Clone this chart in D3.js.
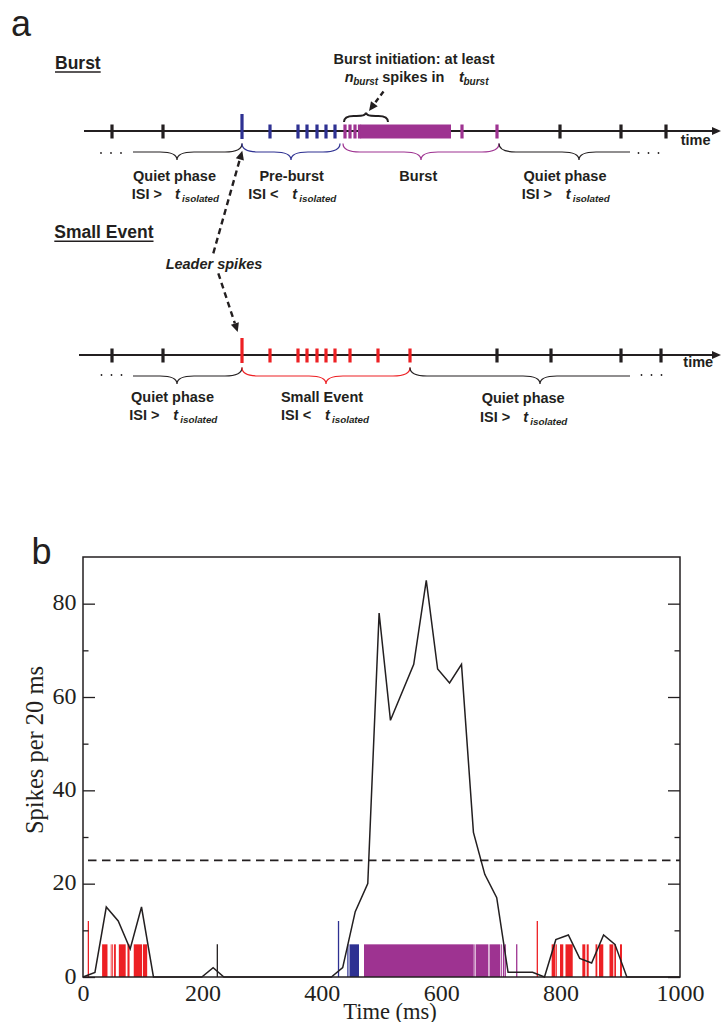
<!DOCTYPE html>
<html><head><meta charset="utf-8">
<script src="https://cdn.jsdelivr.net/npm/d3@7"></script>
<style>body{margin:0;background:#fff}svg{display:block}</style>
</head><body>
<svg id="c" width="722" height="1022"></svg>
<script>
// ================= Panel b data =================
const rateTimes  = [0,20,39,59,79,98,118,199,218,236,416,435,456,477,496,515,554,575,594,614,634,654,673,693,712,753,773,792,813,832,852,872,891,911,1000];
const rateValues = [0,1,15,12,6,15,0,0,2,0,0,2,14,20,78,55,67,85,66,63,67,31,22,17,1,1,0,8,9,4,3,9,7,0,0];
const threshold = 25;
const yTicksMajor = [0,20,40,60,80];
const yTicksMinor = [10,30,50,70];
const xTicks = [0,200,400,600,800,1000];
// raster: dense spike runs [start,end] in ms, isolated spikes in ms
const redRunsEarly = [[32,41],[46.5,47.5],[49,50],[52,55],[60,71.5],[74.5,78],[85,99],[100.5,107.5]];
const blueRuns = [[442.7,444.7],[446.4,462.3]];
const purpleRuns = [[470.7,654.5],[655.6,657],[658,679],[681,699],[700.5,702],[703.5,706],[707,708.5]];
const redRunsLate = [[785,791.5],[792.3,793.6],[799,804.5],[808.2,820.3],[836.4,841.4],[843.7,847.1],[858.5,861.5],[864.3,871.5],[881.9,888.3],[890,892.8],[899.5,902.8]];
const leaderSpikes = [{t:9,c:"red"},{t:428,c:"blue"},{t:761,c:"red"}];
const singleSpikes = [{t:225,c:"black"},{t:726.5,c:"purple"}];
const rasterHeight = 7, leaderHeight = 12;

// ================= Panel a data (schematic time units) =================
const burstQuiet = [31,82,479,540,585];
const burstLeader = [161];
const burstPre = [189,217,226,236,245,254];
const burstInit = [264,269,274,278.5];
const burstDense = [[281,370]];
const burstTail = [381,416];
const seQuiet = [31,82,416,470,540,580];
const seLeader = [161];
const seSpikes = [189,217,226,236,245,254,269,297,329];

const COL = {black:"#231f20", blue:"#2e3192", purple:"#9e3391", red:"#ed2024"};

const svg = d3.select("#c");

// ---------------- Panel a ----------------
const xs = d3.scaleLinear().domain([0,640]).range([81,721]);
const rowY = {burst:131, se:355};
const ga = svg.append("g");

ga.append("text").attr("x",11).attr("y",36).attr("font-family","Liberation Sans, Arial, sans-serif")
  .attr("font-size",36).attr("fill",COL.black).text("a");

function heading(x,y,txt){
  const t = ga.append("text").attr("x",x).attr("y",y).attr("font-family","Liberation Sans, Arial, sans-serif")
    .attr("font-size",17.5).attr("font-weight","bold").attr("fill",COL.black).text(txt);
  const w = t.node().getComputedTextLength();
  ga.append("line").attr("x1",x).attr("x2",x+w).attr("y1",y+3).attr("y2",y+3).attr("stroke",COL.black).attr("stroke-width",1.5);
}
heading(55,69,"Burst");
heading(54.3,238.3,"Small Event");

function timeline(y,t0){
  ga.append("line").attr("x1",xs(t0)).attr("x2",xs(632)).attr("y1",y).attr("y2",y)
    .attr("stroke",COL.black).attr("stroke-width",2);
  const xe = xs(640);
  ga.append("path").attr("d",`M${xe},${y} L${xe-9},${y-4} L${xe-9},${y+4} Z`).attr("fill",COL.black);
}
timeline(rowY.burst,3);
timeline(rowY.se,-2);

function spikes(arr,y,color,leader){
  ga.selectAll(null).data(arr).enter().append("rect")
    .attr("x",d=>xs(d)-1.6).attr("width",3.2)
    .attr("y",y-(leader?17:6.5)).attr("height",leader?25:14)
    .attr("fill",color);
}
spikes(burstQuiet,rowY.burst,COL.black,false);
spikes(burstLeader,rowY.burst,COL.blue,true);
spikes(burstPre,rowY.burst,COL.blue,false);
spikes(burstInit,rowY.burst,COL.purple,false);
spikes(burstTail,rowY.burst,COL.purple,false);
ga.selectAll(null).data(burstDense).enter().append("rect")
  .attr("x",d=>xs(d[0])-1.6).attr("width",d=>xs(d[1])-xs(d[0])+1.6)
  .attr("y",rowY.burst-6.5).attr("height",14).attr("fill",COL.purple);
spikes(seQuiet,rowY.se,COL.black,false);
spikes(seLeader,rowY.se,COL.red,true);
spikes(seSpikes,rowY.se,COL.red,false);

function dots(x0,y){
  [0,10,20].forEach(d=>ga.append("circle").attr("cx",x0+d).attr("cy",y).attr("r",0.9).attr("fill",COL.black));
}
dots(101,rowY.burst+22); dots(638.5,rowY.burst+22);
dots(101.5,rowY.se+20); dots(641.5,rowY.se+20);

function bracePath(x0,x1,xm,yEnd,yArm,yTip,cut0,cut1){
  const r = Math.min(17,(xm-x0)/2.3,(x1-xm)/2.3);
  let p = "";
  if(cut0!=null) p += `M${cut0},${yArm}`;
  else p += `M${x0},${yEnd} Q${x0},${yArm} ${x0+r},${yArm}`;
  p += ` L${xm-r},${yArm} Q${xm},${yArm} ${xm},${yTip} Q${xm},${yArm} ${xm+r},${yArm}`;
  if(cut1!=null) p += ` L${cut1},${yArm}`;
  else p += ` L${x1-r},${yArm} Q${x1},${yArm} ${x1},${yEnd}`;
  return p;
}
function brace(t0,t1,y,color,cut0,cut1,sw){
  const x0=xs(t0), x1=xs(t1), xm=(x0+x1)/2;
  ga.append("path").attr("d",bracePath(x0,x1,xm,y+12.5,y+21,y+29,
      cut0!=null?xs(cut0):null, cut1!=null?xs(cut1):null))
    .attr("fill","none").attr("stroke",color).attr("stroke-width",sw||1.2);
}
brace(31,161,rowY.burst,COL.black,52,null);
brace(161,259,rowY.burst,COL.blue);
brace(262,418,rowY.burst,COL.purple);
brace(418,578,rowY.burst,COL.black,null,549);
brace(31,161,rowY.se,COL.black,52,null);
brace(161,329,rowY.se,COL.red);
brace(329,589,rowY.se,COL.black,null,549);
// burst initiation brace (above)
(function(){
  const x0=xs(263), x1=xs(307), xm=(x0+x1)/2, y=rowY.burst;
  ga.append("path").attr("d",bracePath(x0,x1,xm,y-9,y-15,y-18.5))
    .attr("fill","none").attr("stroke",COL.black).attr("stroke-width",2);
})();

function dashedArrow(x1,y1,x2,y2,sw,dash){
  const dx=x2-x1, dy=y2-y1, L=Math.hypot(dx,dy), ux=dx/L, uy=dy/L;
  const hl=9, hw=4.2;
  const bx=x2-ux*hl, by=y2-uy*hl;
  ga.append("line").attr("x1",x1).attr("y1",y1).attr("x2",bx).attr("y2",by)
    .attr("stroke",COL.black).attr("stroke-width",sw).attr("stroke-dasharray",dash);
  ga.append("path").attr("d",`M${x2},${y2} L${bx-uy*hw},${by+ux*hw} L${bx+uy*hw},${by-ux*hw} Z`).attr("fill",COL.black);
}
dashedArrow(213.3,253.3,242.3,150.7,2.4,"6,4");
dashedArrow(218.3,273.3,237.7,332,2.4,"6,4");
dashedArrow(383.5,91.5,369,111,2.4,"5,3.5");

const FS = "Liberation Sans, Arial, sans-serif";
function txt(x,y,s,opt){
  opt=opt||{};
  return ga.append("text").attr("x",x).attr("y",y).attr("font-family",FS)
    .attr("font-size",opt.size||14.5).attr("font-weight","bold")
    .attr("font-style",opt.italic?"italic":"normal")
    .attr("text-anchor",opt.anchor||"start").attr("fill",COL.black).text(s);
}
function isiLabel(tStart,tT,y,op,subName){
  txt(xs(tStart),y,"ISI "+op);
  txt(xs(tT),y,"t",{italic:true});
  txt(xs(tT)+7,y+3.4,subName||"isolated",{italic:true,size:9.8});
}
// burst row labels
const lb = rowY.burst;
txt(xs(93.5),lb+50,"Quiet phase",{anchor:"middle"}); isiLabel(50.7,94,lb+68,">");
txt(xs(210.7),lb+50,"Pre-burst",{anchor:"middle"}); isiLabel(167.3,211.3,lb+68,"<");
txt(xs(337.3),lb+50,"Burst",{anchor:"middle"});
txt(xs(484),lb+50,"Quiet phase",{anchor:"middle"}); isiLabel(440.7,484.7,lb+68,">");
txt(680.7,lb+14,"time");
// small event row labels
const ls = rowY.se;
txt(xs(91.5),ls+47,"Quiet phase",{anchor:"middle"}); isiLabel(48.3,92.3,ls+65,">");
txt(xs(241),ls+47,"Small Event",{anchor:"middle"}); isiLabel(200,244,ls+65,"<");
txt(xs(442.2),ls+48,"Quiet phase",{anchor:"middle"}); isiLabel(399,442.3,ls+66.5,">");
txt(683.3,ls+12,"time");
// annotations
txt(414,64,"Burst initiation: at least",{anchor:"middle"});
txt(344.7,81.7,"n",{italic:true}); txt(353.2,85,"burst",{italic:true,size:10});
txt(382.3,81.7,"spikes in");
txt(459,81.7,"t",{italic:true}); txt(463.5,85,"burst",{italic:true,size:10});
txt(214,269.3,"Leader spikes",{anchor:"middle",italic:true});

// ---------------- Panel b ----------------
const x = d3.scaleLinear().domain([0,1000]).range([83,680]);
const y = d3.scaleLinear().domain([0,90]).range([977,557]);
const gb = svg.append("g");
const SERIF = "Liberation Serif, Times New Roman, serif";

gb.append("text").attr("x",31.5).attr("y",564).attr("font-family",FS).attr("font-size",36).attr("fill",COL.black).text("b");

// raster
function runs(arr,color){
  gb.selectAll(null).data(arr).enter().append("rect")
    .attr("x",d=>x(d[0])).attr("width",d=>Math.max(x(d[1])-x(d[0]),0.8))
    .attr("y",y(rasterHeight)).attr("height",y(0)-y(rasterHeight)).attr("fill",COL[color]);
}
runs(redRunsEarly,"red"); runs(blueRuns,"blue"); runs(purpleRuns,"purple"); runs(redRunsLate,"red");
gb.selectAll(null).data(leaderSpikes).enter().append("line")
  .attr("x1",d=>x(d.t)).attr("x2",d=>x(d.t)).attr("y1",y(0)).attr("y2",y(leaderHeight))
  .attr("stroke",d=>COL[d.c]).attr("stroke-width",1.3);
gb.selectAll(null).data(singleSpikes).enter().append("line")
  .attr("x1",d=>x(d.t)).attr("x2",d=>x(d.t)).attr("y1",y(0)).attr("y2",y(rasterHeight))
  .attr("stroke",d=>COL[d.c]).attr("stroke-width",1.3);

// threshold
gb.append("line").attr("x1",x(0)).attr("x2",x(1000)).attr("y1",y(threshold)).attr("y2",y(threshold))
  .attr("stroke",COL.black).attr("stroke-width",1.6).attr("stroke-dasharray","8.5,5.5").attr("stroke-dashoffset",-5);

// rate line
const pts = rateTimes.map((t,i)=>[t,rateValues[i]]);
gb.append("path").datum(pts).attr("fill","none").attr("stroke",COL.black).attr("stroke-width",1.5)
  .attr("stroke-linejoin","miter")
  .attr("d",d3.line().x(d=>x(d[0])).y(d=>y(d[1])));

// axes
function styleAxis(g){
  g.select(".domain").remove();
  g.selectAll("line").attr("stroke",COL.black).attr("stroke-width",1.3);
  g.selectAll("text").attr("font-family",SERIF).attr("font-size",24).attr("fill",COL.black);
}
gb.append("g").attr("transform",`translate(${x(0)},0)`)
  .call(d3.axisLeft(y).tickValues(yTicksMajor).tickSize(-12).tickPadding(6.5).tickFormat(d3.format("d")))
  .call(styleAxis).selectAll("text").attr("dy","0.26em");
gb.append("g").attr("transform",`translate(${x(0)},0)`)
  .call(d3.axisLeft(y).tickValues(yTicksMinor).tickSize(-5.5).tickFormat(""))
  .call(styleAxis);
gb.append("g").attr("transform",`translate(${x(1000)},0)`)
  .call(d3.axisRight(y).tickValues(yTicksMajor).tickSize(-12).tickFormat(""))
  .call(styleAxis);
gb.append("g").attr("transform",`translate(${x(1000)},0)`)
  .call(d3.axisRight(y).tickValues(yTicksMinor).tickSize(-5.5).tickFormat(""))
  .call(styleAxis);
gb.append("g").attr("transform",`translate(0,${y(0)})`)
  .call(d3.axisBottom(x).tickValues(xTicks).tickSize(0).tickPadding(7).tickFormat(d3.format("d")))
  .call(styleAxis);

// frame
gb.append("rect").attr("x",x(0)).attr("y",y(90)).attr("width",x(1000)-x(0)).attr("height",y(0)-y(90))
  .attr("fill","none").attr("stroke",COL.black).attr("stroke-width",1.5);

// titles
gb.append("text").attr("x",390).attr("y",1018.5).attr("text-anchor","middle")
  .attr("font-family",SERIF).attr("font-size",22.5).attr("fill",COL.black).text("Time (ms)");
gb.append("text").attr("transform","translate(43,750) rotate(-90)").attr("text-anchor","middle")
  .attr("font-family",SERIF).attr("font-size",24.5).attr("fill",COL.black).text("Spikes per 20 ms");
</script>
</body></html>
